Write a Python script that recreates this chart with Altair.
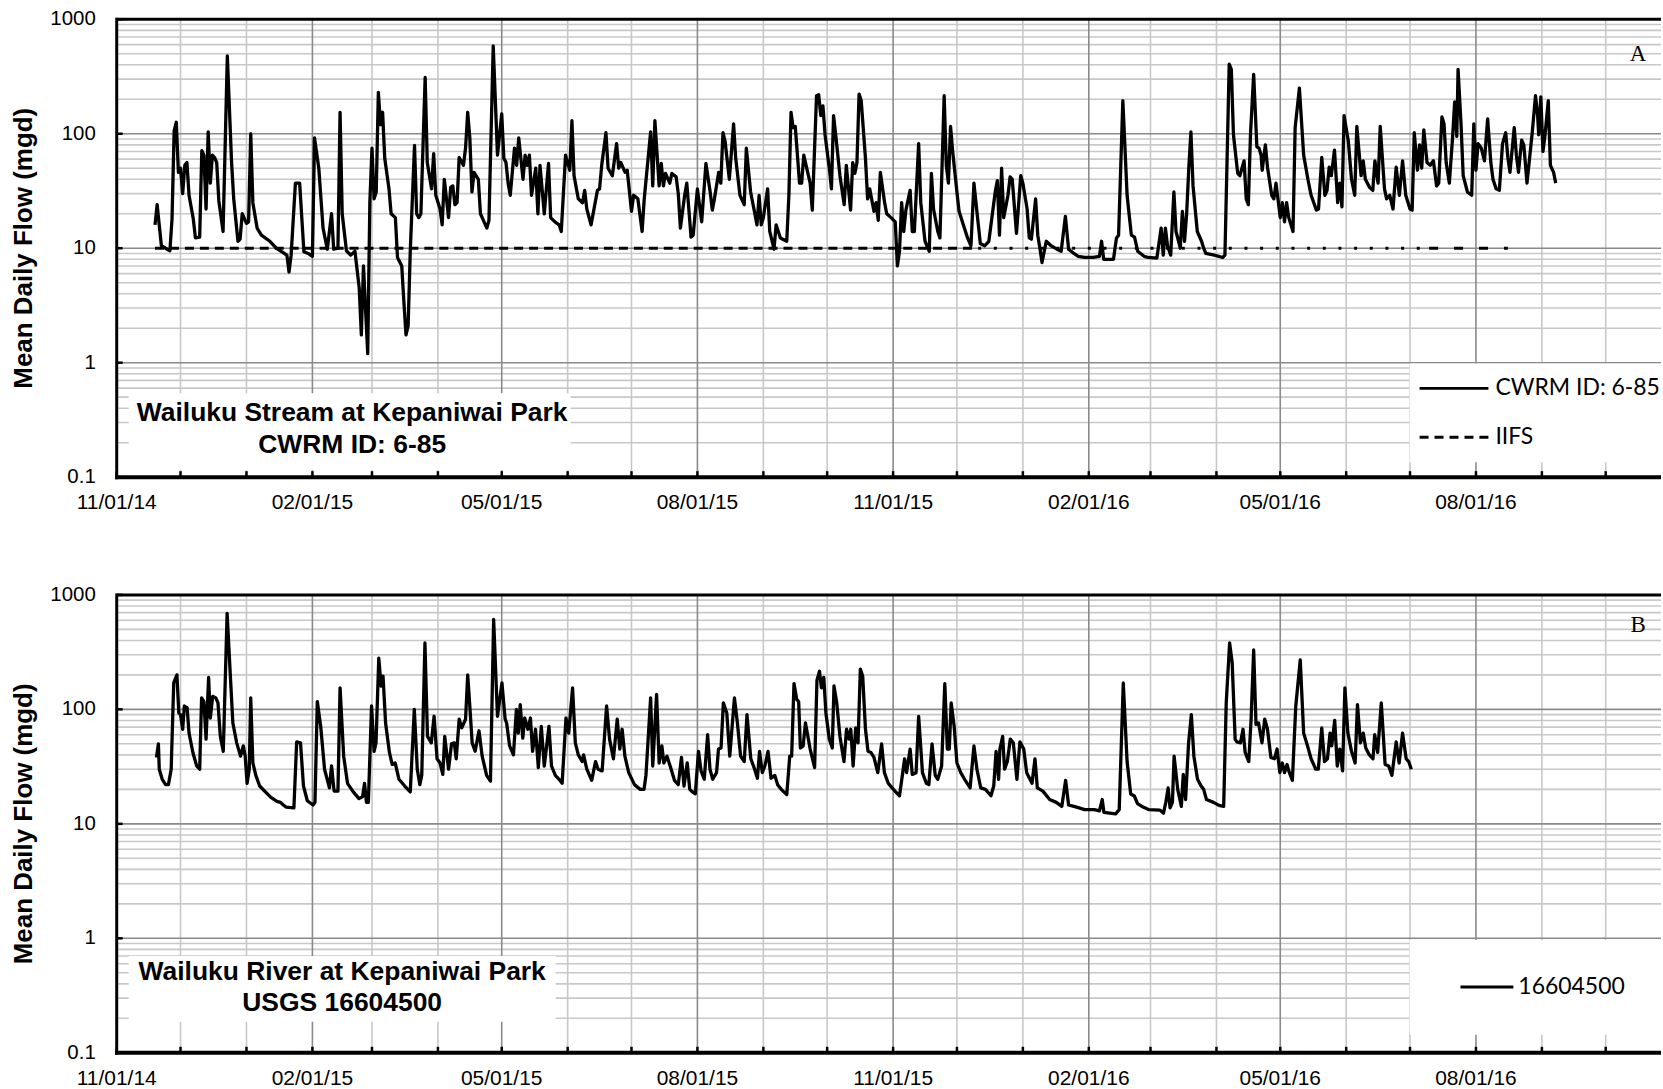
import altair as alt
import pandas as pd

# ---------------- data ----------------
START = "2014-11-01"
END = "2016-10-27"          # right edge of the visible plot area

MONTH_TICKS = [
    "2014-11-01", "2014-12-01", "2015-01-01", "2015-02-01", "2015-03-01",
    "2015-04-01", "2015-05-01", "2015-06-01", "2015-07-01", "2015-08-01",
    "2015-09-01", "2015-10-01", "2015-11-01", "2015-12-01", "2016-01-01",
    "2016-02-01", "2016-03-01", "2016-04-01", "2016-05-01", "2016-06-01",
    "2016-07-01", "2016-08-01", "2016-09-01", "2016-10-01",
]
QUARTER_TICKS = ["2014-11-01", "2015-02-01", "2015-05-01", "2015-08-01",
                 "2015-11-01", "2016-02-01", "2016-05-01", "2016-08-01"]
X_LABELS = ["11/01/14", "02/01/15", "05/01/15", "08/01/15",
            "11/01/15", "02/01/16", "05/01/16", "08/01/16"]
Y_MAJOR = [0.1, 1, 10, 100, 1000]
Y_LABELS = ["0.1", "1", "10", "100", "1000"]
Y_MINOR = [0.2, 0.3, 0.4, 0.5, 0.6, 0.7, 0.8, 0.9,
           2, 3, 4, 5, 6, 7, 8, 9,
           20, 30, 40, 50, 60, 70, 80, 90,
           200, 300, 400, 500, 600, 700, 800, 900]

# Panel A: CWRM ID 6-85, days after 11/01/14 and mean daily flow (mgd)
CWRM_DAYS = [
    18, 19, 21, 25, 26, 27, 28, 29, 30, 31, 32, 33, 34, 36, 37, 39, 40, 41, 42, 43,
    44, 45, 46, 47, 48, 50, 52, 54, 55, 57, 58, 59, 61, 62, 63, 64, 66, 68, 72, 75,
    80, 81, 82, 84, 86, 88, 90, 92, 93, 95, 97, 99, 101, 102, 104, 105, 106, 108, 110, 112,
    114, 115, 116, 118, 119, 120, 121, 122, 123, 124, 125, 126, 128, 129, 131, 132, 134, 135, 136, 137,
    138, 140, 141, 142, 143, 145, 146, 148, 149, 150, 152, 153, 154, 156, 157, 158, 159, 160, 161, 163,
    164, 165, 166, 167, 168, 170, 171, 174, 175, 177, 179, 181, 182, 183, 184, 185, 187, 188, 189, 191,
    192, 193, 194, 195, 197, 198, 199, 201, 203, 204, 206, 208, 209, 211, 213, 214, 215, 217, 219, 220,
    221, 223, 226, 227, 228, 230, 231, 233, 235, 236, 237, 239, 240, 242, 243, 245, 247, 248, 251, 252,
    253, 255, 256, 257, 258, 260, 261, 263, 264, 265, 267, 268, 270, 271, 273, 275, 277, 279, 280, 281,
    283, 284, 285, 286, 288, 290, 291, 293, 295, 296, 298, 300, 301, 302, 303, 304, 306, 307, 309, 310,
    312, 315, 316, 317, 318, 319, 321, 322, 323, 326, 327, 329, 330, 331, 332, 333, 335, 336, 337, 338,
    340, 342, 343, 345, 346, 347, 348, 349, 350, 352, 353, 354, 356, 357, 358, 359, 361, 362, 364, 366,
    367, 368, 369, 370, 371, 373, 374, 375, 377, 378, 380, 382, 383, 384, 386, 387, 389, 390, 391, 392,
    393, 395, 396, 398, 400, 401.6, 403, 404.5, 406, 408, 410, 413, 414, 415, 416, 417, 419, 420, 421, 423,
    425, 426, 428, 429, 430, 432, 433, 434, 435, 437, 439, 442, 444, 446, 447.5, 450, 452, 455, 459, 462,
    463, 464, 468.6, 470, 471, 473, 475, 477, 478.5, 480, 483, 485, 489, 491, 492, 493, 494, 495.5, 497, 498,
    500, 501, 502, 503, 504, 505, 506, 508, 510, 511, 512, 516, 520, 521, 523, 524, 525, 527, 528, 530,
    531, 532, 533, 534.5, 536, 537, 538, 538.5, 540, 541, 543, 544, 545, 547, 548, 549, 550, 551, 553, 554,
    556, 558, 560, 561.5, 564, 565, 566.5, 568, 569, 570, 571, 572.5, 574, 575, 576, 577, 579, 580.5, 582, 583,
    585, 586, 587, 589, 590.5, 591.5, 593, 594, 596, 597, 598.5, 600, 601.5, 603, 604.5, 606, 608, 609, 610, 611.5,
    612.5, 613.5, 614.5, 616, 617.5, 619, 620.5, 621.5, 623, 624, 625, 626.5, 628, 629, 630, 630.6, 632, 633, 635, 637,
    638, 639, 640, 641.5, 643, 644.5, 646, 647, 648.5, 650, 651.5, 653, 654, 655, 657, 658, 659, 660.5, 661.5, 663,
    665.5, 667, 668, 668.5, 669.5, 670.5, 671.5, 673, 674, 675.5, 676.5,
]
CWRM_MGD = [
    16, 24, 10.5, 9.5, 18, 106, 126, 46, 50, 30, 53, 56, 29, 18, 12.3, 12.5, 71, 65, 22, 104,
    37, 65, 62, 56, 26, 14, 479, 56, 27, 11.5, 12, 20, 16.5, 17, 100, 25, 15, 13, 11.5, 10,
    8.7, 6.2, 8.7, 37, 37, 9.3, 9.0, 8.5, 92, 50, 15, 9.8, 20, 9.8, 10, 154, 20, 9.5, 8.7, 9.4,
    4.5, 1.75, 7, 1.2, 25, 75, 27, 31, 230, 120, 154, 61, 33, 20, 18.5, 8.3, 7, 3.4, 1.75, 2.1,
    9.4, 79, 20, 18.5, 20, 310, 56, 33, 67, 29, 22, 16, 40, 18.5, 34, 35, 24, 25, 62, 53,
    75, 154, 92, 31, 46, 40, 20, 15, 17.5, 586, 65, 149, 61, 56, 37, 29, 75, 53, 92, 40,
    65, 53, 65, 29, 50, 20, 53, 20, 55, 18.5, 17, 16, 14, 65, 48, 130, 43, 27, 25, 32,
    22, 16, 32, 33, 53, 102, 50, 43, 82, 50, 56, 46, 48, 21, 29, 27, 14, 27, 104, 35,
    130, 35, 55, 35, 45, 37, 45, 42, 30, 15, 29, 37, 12.5, 13, 33, 17, 55, 31, 21.5, 27,
    46, 37, 102, 86, 40, 122, 61, 29, 24, 75, 31, 20, 16, 29, 16, 18.5, 33, 14, 9.8, 16,
    12.3, 11.5, 29, 154, 113, 116, 37, 37, 65, 37, 21.5, 215, 219, 144, 175, 98, 50, 33, 144, 98,
    43, 24, 53, 21.5, 56, 45, 56, 222, 195, 61, 27, 33, 21, 25, 17.5, 46, 25, 20, 18.5, 17,
    7, 9.4, 25, 14, 21.5, 32, 14, 14, 82, 25, 11.5, 9.4, 45, 22, 14, 12.3, 215, 53, 37, 116,
    70, 31, 21, 16, 12.3, 10.5, 37, 20, 11, 10.5, 11.5, 31, 39, 13, 50, 18.5, 29, 42, 40, 13.5,
    43, 37, 22, 12.3, 12, 27, 13, 10, 7.5, 11.5, 10.6, 9.8, 9.4, 19, 9.8, 9, 8.5, 8.3, 8.3, 8.5,
    11.5, 8, 8, 12.3, 13, 195, 29, 13, 12.5, 9.4, 8.5, 8.3, 8.2, 15, 8.7, 15, 10.5, 8.7, 31, 14,
    10, 21, 11.5, 20, 50, 104, 35, 14, 11.5, 10, 9, 8.7, 8.3, 8.7, 405, 365, 98, 45, 43, 58,
    27, 24, 98, 330, 77, 75, 65, 48, 80, 51, 29, 27, 37, 18.5, 25, 17, 25, 18.5, 14, 113,
    250, 65, 40, 29, 21.5, 22, 62, 29, 32, 51, 43, 72, 25, 37, 23, 144, 86, 40, 29, 116,
    43, 58, 40, 34, 32, 58, 37, 116, 33, 27, 29, 22, 51, 29, 58, 29, 22, 21.5, 102, 48,
    80, 50, 108, 56, 53, 58, 35, 37, 140, 122, 56, 37, 92, 190, 95, 365, 120, 43, 31, 29,
    122, 48, 82, 75, 58, 135, 56, 40, 33, 32, 82, 102, 62, 46, 113, 65, 46, 88, 80, 37,
    104, 215, 144, 98, 210, 70, 98, 195, 53, 46, 37,
]

# Interim instream flow standard (constant), shown between these days
IIFS_MGD = 10
IIFS_DAYS = [18, 405, 617, 654]

# Panel B: USGS 16604500
USGS_DAYS = [
    18.7, 19.6, 20, 21.4, 23, 24.3, 25.6, 26.8, 28.3, 29.2, 30, 31, 31.8, 33.1, 34, 35.8, 37.6, 39, 39.9, 41,
    42, 43.2, 44, 45.1, 46.6, 47.6, 48.7, 50.1, 51.9, 53.4, 54.6, 56.4, 58.2, 59.5, 60.4, 61.3, 62.3, 63, 64, 65.4,
    67.2, 69.9, 72.5, 75.3, 77, 78.3, 79.7, 83.3, 84.6, 86.4, 87.8, 89.6, 92.3, 93.2, 94.3, 95.9, 97.7, 100, 101, 102.2,
    104, 105, 106.7, 108.5, 111.2, 113.9, 115.6, 116.5, 117.4, 118.3, 119.8, 121, 121.9, 123.2, 124.3, 125.2, 126.4, 128.2, 129.5, 130.9,
    132.7, 135.4, 138, 139.9, 141.3, 142.5, 143.4, 144.9, 146.1, 147.9, 149.2, 150.6, 152, 153.3, 154.2, 156, 157.4, 158.7, 159.6, 161,
    162.2, 164, 165, 165.9, 167.1, 168.5, 170.3, 171.8, 173.9, 175.7, 177.2, 179, 181.1, 182.6, 183.3, 184.7, 186.5, 187.9, 188.8, 189.7,
    190.9, 191.8, 193.3, 194.5, 195.5, 196.9, 198.2, 199.6, 201, 203.2, 204.4, 206.2, 208, 209.4, 211.2, 212.5, 214.3, 215.6, 217, 218.8,
    219.5, 221, 223.3, 225.1, 226.3, 228.2, 230.3, 231.7, 233.5, 235.3, 236.5, 237.6, 238.9, 240.7, 243.4, 246.1, 247.9, 248.8, 251, 252,
    253.8, 255, 256.3, 257.2, 258.7, 260.4, 262.2, 264, 265.5, 266.7, 268.2, 269.4, 270.7, 272, 273.5, 274.7, 276.2, 277.8, 278.9, 280.2,
    282, 282.9, 284.1, 285.2, 286.8, 288.2, 290.4, 291.8, 293.3, 295, 296.3, 298.1, 299.9, 301.2, 302.2, 303.5, 304.7, 306.2, 307.6, 309.4,
    310.7, 312.4, 315, 316.4, 317.3, 318.4, 319.7, 320.6, 321.4, 322.7, 323.8, 326, 328.1, 329.2, 330.4, 331.3, 332.4, 333.4, 335, 336.4,
    337.2, 338.5, 340, 341.9, 343.1, 344.3, 345.1, 346.2, 347.4, 348.5, 349.6, 350.7, 352, 353.2, 354.6, 356, 357.8, 359.6, 360.9, 362.7,
    364.5, 366.2, 368, 369.4, 370.4, 371.3, 373, 374, 375.8, 377, 378.8, 380.6, 381.8, 383.3, 384.8, 386, 387.8, 389.3, 390.5, 391.4,
    392.3, 393.7, 395, 396.8, 398.6, 401.2, 403, 404.4, 406.2, 408.4, 411, 412.3, 413.4, 414.6, 415.2, 416.5, 417.4, 418.7, 420.1, 421.5,
    423.2, 424.6, 426.4, 427.8, 430.3, 431.7, 432.8, 435.4, 438.6, 441.7, 444.3, 446.1, 447.5, 450, 452.4, 455, 459.6, 462, 463.3, 464.1,
    469.6, 471.3, 473.2, 475, 476.7, 478.4, 479.9, 482.5, 485.3, 490.4, 492.1, 493.2, 494.3, 495.2, 496.3, 497.1, 498.8, 500.5, 501.4, 502.5,
    503.9, 505.2, 506.4, 508.1, 509.8, 511, 512.3, 515.6, 518.2, 520.4, 521.6, 523.2, 524.4, 525.8, 526.6, 528.3, 529.5, 530.5, 532.2, 533.3,
    534.5, 535.6, 536.8, 538.4, 539.7, 541, 542.6, 544.3, 545.5, 546.8, 548, 549, 550.2, 551, 552.7, 554.3, 556.4, 558, 559.8, 561.5,
    563.7, 564.9, 566.5, 567.8, 569.2, 570.4, 571.2, 572.6, 573.8, 575, 576.3, 577.4, 578.8, 580.5, 582.2, 583.3, 584.7, 586, 587.2, 588.9,
    590.6, 591.4, 592.8, 594.5, 596.3, 598, 599.5, 601.5, 602.9, 604.5, 606.2, 607.4, 608.6,
]
USGS_MGD = [
    38, 50, 30, 24.5, 22, 22, 30, 170, 200, 93, 90, 67, 107, 103, 62, 42, 32, 30, 126, 117,
    55, 190, 84, 130, 126, 114, 58, 43, 690, 200, 76, 51, 39, 48, 39, 22.6, 30, 126, 34, 26.5,
    21.4, 19, 17, 15.7, 15.4, 14.6, 14, 13.8, 52, 51, 21.4, 15.9, 14.6, 15.4, 117, 71, 30, 20.6, 32, 19.3,
    19.3, 154, 39, 22.6, 19, 16.6, 17.3, 22.6, 15.4, 15.4, 107, 43, 51, 280, 160, 195, 76, 42, 33, 34,
    24.5, 21.4, 19, 100, 30, 22, 26.5, 380, 58, 51, 87, 37, 34, 27, 58, 30, 50, 51, 37, 82,
    69, 82, 200, 114, 51, 43, 65, 39, 26.5, 23.6, 610, 87, 170, 82, 76, 48, 40, 100, 62, 110,
    56, 84, 67, 84, 43, 67, 31, 71, 32, 71, 32, 26.5, 24.5, 22.6, 84, 62, 154, 51, 40, 35,
    40, 30, 24, 35, 30, 29, 107, 55, 37, 82, 45, 67, 39, 28, 22, 20, 20, 26.5, 126, 32,
    135, 34, 48, 34, 39, 31, 24, 22, 38, 21.4, 34, 20, 19, 18.3, 43, 29, 24.5, 60, 30, 24.5,
    28, 45, 46, 114, 93, 39, 126, 76, 39, 35, 90, 37, 30, 25, 43, 28, 32, 43, 25, 26.5,
    22, 20, 18, 39, 39, 168, 122, 117, 46, 48, 76, 45, 31, 180, 215, 154, 190, 93, 55, 46,
    160, 114, 58, 35, 67, 55, 67, 32, 69, 51, 225, 195, 67, 43, 42, 38, 28, 50, 28, 22.6,
    20.6, 19, 17.6, 27, 37, 28, 45, 27, 28, 87, 28, 22.6, 22, 50, 26.5, 24.5, 32, 168, 45, 45,
    114, 71, 34, 28, 24.5, 20.6, 48, 30, 20.6, 20, 17.6, 21.4, 43, 24.5, 45, 58, 30, 35, 55, 51,
    24.5, 52, 45, 28, 22.6, 37, 20.6, 19.3, 16.3, 15.4, 14.2, 24, 14.6, 14.2, 13.8, 13.3, 13.3, 13, 16.3, 12.6,
    12.2, 13.3, 170, 35, 18.2, 17.5, 15, 14, 13.3, 13.2, 12.4, 15.4, 20.6, 13.8, 15.4, 39, 20, 14.2, 27, 16.3,
    51, 90, 39, 24.5, 21.4, 20, 16.3, 15.4, 14.5, 14.2, 114, 380, 255, 55, 52, 51, 67, 42, 35, 82,
    330, 74, 76, 51, 82, 67, 38, 37, 45, 28, 34, 28, 33, 29, 24, 107, 270, 62, 48, 37,
    30, 30, 69, 35, 37, 62, 48, 80, 32, 45, 29, 154, 62, 43, 34, 110, 51, 62, 46, 40,
    37, 60, 42, 114, 33, 32, 26.5, 52, 34, 62, 37, 35, 30,
]

SERIES_A = ["CWRM ID: 6-85", "IIFS"]
SERIES_B = ["16604500"]
BOX_A = ["Wailuku Stream at Kepaniwai Park", "CWRM ID: 6-85"]
BOX_B = ["Wailuku River at Kepaniwai Park", "USGS 16604500"]
Y_TITLE = "Mean Daily Flow (mgd)"

# ---------------- helpers ----------------
DAY_MS = 86400000


def ms(s):
    return int(pd.Timestamp(s, tz="UTC").value // 10**6)


BASE = ms(START)


def series_frame(days, vals):
    return pd.DataFrame({"t": [BASE + int(round(d * DAY_MS)) for d in days], "v": vals})


W, H = 1548, 459
SANS = "Liberation Sans"
LEG = "Lato"
DARK, LIGHT = "#8a8a8a", "#c8c8c8"
LINE_W = 3.3

x_scale = alt.Scale(type="utc", domain=[BASE, ms(END)])
y_scale = alt.Scale(type="log", domain=[0.1, 1000], nice=False)

minor_months = pd.DataFrame({"t": [ms(m) for m in MONTH_TICKS if m not in QUARTER_TICKS]})
major_months = pd.DataFrame({"t": [ms(m) for m in QUARTER_TICKS], "lab": X_LABELS})
all_months = pd.DataFrame({"t": [ms(m) for m in MONTH_TICKS]})
minor_y = pd.DataFrame({"v": Y_MINOR})
major_y = pd.DataFrame({"v": Y_MAJOR, "lab": Y_LABELS})
one = pd.DataFrame({"k": [0]})

X = lambda: alt.X("t:T", scale=x_scale, axis=None, title=None)
Y = lambda: alt.Y("v:Q", scale=y_scale, axis=None, title=None)


def grid_layers():
    return [
        alt.Chart(minor_y).mark_rule(color=LIGHT, strokeWidth=1.6).encode(y=Y()),
        alt.Chart(minor_months).mark_rule(color=LIGHT, strokeWidth=1.6).encode(x=X()),
        alt.Chart(major_y).mark_rule(color=DARK, strokeWidth=1.6).encode(y=Y()),
        alt.Chart(major_months).mark_rule(color=DARK, strokeWidth=1.6).encode(x=X()),
    ]


def frame_layers():
    return [
        # inward tick marks
        alt.Chart(all_months).mark_rule(color="black", strokeWidth=2.5).encode(
            x=X(), y=alt.value(H - 6), y2=alt.value(H)),
        alt.Chart(major_y).mark_rule(color="black", strokeWidth=2.5).encode(
            y=Y(), x=alt.value(0), x2=alt.value(6)),
        # plot frame: top, left, bottom
        alt.Chart(one).mark_rule(color="black", strokeWidth=3).encode(
            y=alt.value(0), x=alt.value(0), x2=alt.value(W)),
        alt.Chart(one).mark_rule(color="black", strokeWidth=3).encode(
            x=alt.value(0), y=alt.value(-1.5), y2=alt.value(H + 2)),
        alt.Chart(one).mark_rule(color="black", strokeWidth=4).encode(
            y=alt.value(H), x=alt.value(-1.5), x2=alt.value(W)),
    ]


def axis_text_layers():
    return [
        alt.Chart(major_y).mark_text(font=SANS, fontSize=20.5, color="black",
                                     align="right", baseline="middle").encode(
            y=Y(), x=alt.value(-21), text="lab:N"),
        alt.Chart(major_months).mark_text(font=SANS, fontSize=21, color="black",
                                          align="center", baseline="middle").encode(
            x=X(), y=alt.value(H + 26), text="lab:N"),
        alt.Chart(one).mark_text(font=SANS, fontSize=26, fontWeight="bold", color="black",
                                 angle=270, align="center", baseline="middle").encode(
            x=alt.value(-93), y=alt.value(H / 2), text=alt.value(Y_TITLE)),
    ]


def box(x1, x2, y1, y2):
    return alt.Chart(one).mark_rect(color="white").encode(
        x=alt.value(x1), x2=alt.value(x2), y=alt.value(y1), y2=alt.value(y2))


def label(text, x, y, size=26.5, font=SANS, weight="bold", align="center"):
    return alt.Chart(one).mark_text(
        font=font, fontSize=size, fontWeight=weight, color="black",
        align=align, baseline="middle").encode(
        x=alt.value(x), y=alt.value(y), text=alt.value(text))


def leg_line(x1, x2, y, dash=None):
    kw = {"strokeDash": dash} if dash else {}
    return alt.Chart(one).mark_rule(color="black", strokeWidth=3, **kw).encode(
        x=alt.value(x1), x2=alt.value(x2), y=alt.value(y))


# ---------------- panel A ----------------
cwrm = series_frame(CWRM_DAYS, CWRM_MGD)
line_a = alt.Chart(cwrm).mark_line(color="black", strokeWidth=LINE_W, strokeJoin="round").encode(
    x=X(), y=Y())
iifs_dashes = [[9, 6], [3, 12.7], [9, 16]]
iifs_layers = []
for i, dash in enumerate(iifs_dashes):
    seg = series_frame([IIFS_DAYS[i], IIFS_DAYS[i + 1]], [IIFS_MGD, IIFS_MGD])
    iifs_layers.append(
        alt.Chart(seg).mark_line(color="black", strokeWidth=3, strokeDash=dash).encode(
            x=X(), y=Y()))

panel_a = alt.layer(
    *grid_layers(),
    box(12, 455, 375, 452),
    box(1296, W, 345, 444),
    line_a,
    *iifs_layers,
    *frame_layers(),
    *axis_text_layers(),
    label(BOX_A[0], 236, 395),
    label(BOX_A[1], 236, 427),
    leg_line(1306, 1375, 370),
    leg_line(1306, 1375, 419, [9, 6]),
    label(SERIES_A[0], 1382, 370, 23, LEG, "normal", "left"),
    label(SERIES_A[1], 1382, 419, 23, LEG, "normal", "left"),
    label("A", 1525, 35, 23, "Liberation Serif", "normal"),
).properties(width=W, height=H)

# ---------------- panel B ----------------
usgs = series_frame(USGS_DAYS, USGS_MGD)
line_b = alt.Chart(usgs).mark_line(color="black", strokeWidth=LINE_W, strokeJoin="round").encode(
    x=X(), y=Y())
panel_b = alt.layer(
    *grid_layers(),
    box(12, 440, 362, 428),
    box(1296, W, 346, 441),
    line_b,
    *frame_layers(),
    *axis_text_layers(),
    label(BOX_B[0], 226, 378),
    label(BOX_B[1], 226, 409),
    leg_line(1347, 1400, 393),
    label(SERIES_B[0], 1405, 393, 23, LEG, "normal", "left"),
    label("B", 1525, 30, 23, "Liberation Serif", "normal"),
).properties(width=W, height=H)

chart = alt.vconcat(panel_a, panel_b, spacing=72).resolve_scale(
    x="independent", y="independent"
).properties(
    padding={"left": 11, "top": 8, "right": 0, "bottom": 0}
).configure_view(stroke=None)

chart.save("out.html", embed_options={"renderer": "svg", "actions": False})
